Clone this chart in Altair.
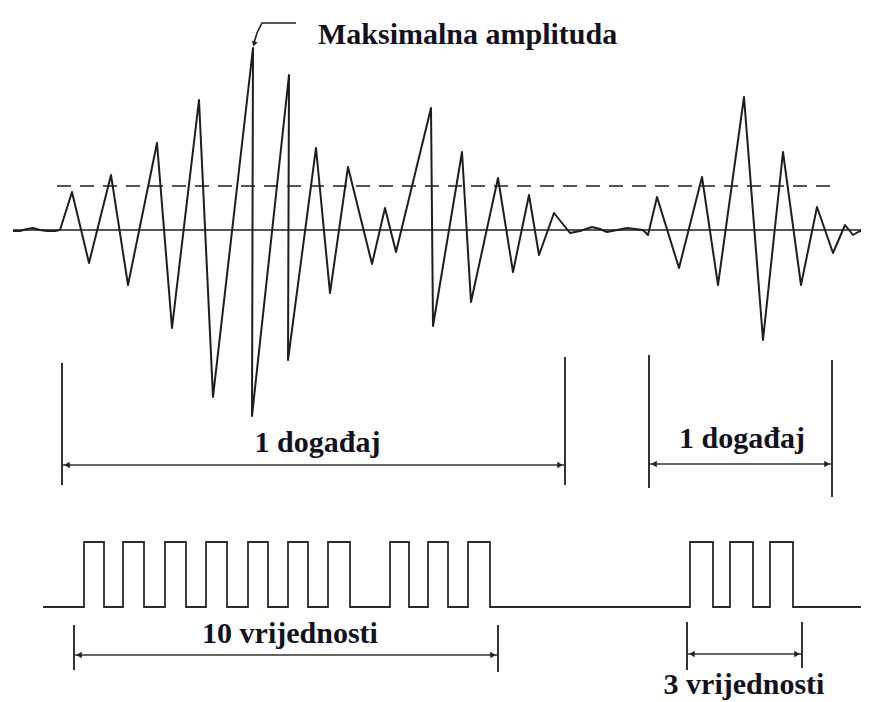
import altair as alt
import pandas as pd

# ---------------- data (diagram units: time -> right, level -> down) ----------------
# acoustic-emission waveform: time and amplitude above the baseline
wave_t = [13, 20, 27, 33, 40, 47, 55, 60, 72, 89, 111, 128, 157, 172, 199, 213, 253, 252,
          289, 288, 316, 330, 348, 372, 385, 396, 431, 433, 462, 471, 498, 513, 529, 539,
          554, 570, 580, 592, 600, 607, 627, 643, 648, 657, 679, 702, 718, 744, 763, 783,
          801, 817, 833, 845, 853, 860, 869]
wave_a = [-1, -1, 1, 2, 0, -1, -1, 0, 38, -33, 55, -55, 87, -98, 130, -167, 182, -186,
          155, -130, 82, -63, 63, -34, 22, -22, 122, -96, 78, -72, 52, -42, 35, -25,
          17, -3, -1, 3, 1, -2, 2, 0, -5, 33, -38, 53, -55, 133, -110, 78, -55,
          23, -23, 5, -5, -1, -5]
baseline_level = 230
threshold_amp = 44
wave_x_range = [13, 869]
threshold_x_range = [57, 835]
max_amp_label = "Maksimalna amplituda"

# threshold-crossing counts (rising / falling edges)
pulse_rise = [84, 123, 165, 206, 248, 288, 328, 390, 428, 468, 690, 730, 770]
pulse_fall = [104, 144, 186, 227, 268, 308, 350, 409, 448, 490, 713, 753, 793]
pulse_low, pulse_high = 607, 542
pulse_x_range = [43, 869]

# event spans
event_start = [62, 649]
event_end = [565, 832]
event_top_start = [363, 355]
event_top_end = [357, 360]
event_bottom_start = [485, 488]
event_bottom_end = [485, 497]
event_arrow_y = [465, 464]
event_label = ["1 događaj", "1 događaj"]
event_label_y = [452, 448]

# count spans
count_start = [74, 687]
count_end = [498, 802]
count_top = [625, 622]
count_bottom_start = [670, 670]
count_bottom_end = [672, 668]
count_arrow_y = [655, 654]
count_label = ["10 vrijednosti", "3 vrijednosti"]
count_label_y = [643, 694]

# ---------------- tables ----------------
wave = pd.DataFrame({"x": wave_t, "y": [baseline_level - a for a in wave_a],
                     "i": range(len(wave_t))})

pts = [(pulse_x_range[0], pulse_low)]
for r, f in zip(pulse_rise, pulse_fall):
    pts += [(r, pulse_low), (r, pulse_high), (f, pulse_high), (f, pulse_low)]
pts.append((pulse_x_range[1], pulse_low))
pulse = pd.DataFrame({"x": [p[0] for p in pts], "y": [p[1] for p in pts], "i": range(len(pts))})

hrules = pd.DataFrame({
    "x": [wave_x_range[0], threshold_x_range[0]],
    "x2": [wave_x_range[1], threshold_x_range[1]],
    "y": [baseline_level, baseline_level - threshold_amp],
    "kind": ["base", "thr"],
})

vlines = pd.DataFrame({
    "x": event_start + event_end + count_start + count_end,
    "y": event_top_start + event_top_end + count_top + count_top,
    "y2": event_bottom_start + event_bottom_end + count_bottom_start + count_bottom_end,
})
arrows = pd.DataFrame({
    "x": event_start + count_start,
    "x2": event_end + count_end,
    "y": event_arrow_y + count_arrow_y,
})
heads_l = pd.DataFrame({"x": [v + 5 for v in event_start + count_start],
                        "y": event_arrow_y + count_arrow_y})
heads_r = pd.DataFrame({"x": [v - 5 for v in event_end + count_end],
                        "y": event_arrow_y + count_arrow_y})

labels = pd.DataFrame({
    "x": [(a + b) / 2 + 4 for a, b in zip(event_start, event_end)]
         + [(a + b) / 2 + 4 for a, b in zip(count_start, count_end)],
    "y": event_label_y + count_label_y,
    "t": event_label + count_label,
})
labels.loc[1, "x"] = 742
labels.loc[3, "x"] = 744

peak_idx = wave_a.index(max(wave_a))
px, py = wave_t[peak_idx], baseline_level - wave_a[peak_idx]
leader = pd.DataFrame({"x": [px + 1, px + 4, px + 9, px + 43],
                       "y": [py - 5, py - 15, py - 25, py - 25], "i": range(4)})
leader_head = pd.DataFrame({"x": [px + 1], "y": [py - 4]})
title_df = pd.DataFrame({"x": [px + 65], "y": [py - 13], "t": [max_amp_label]})

# ---------------- chart ----------------
W, H = 853, 692
xs = alt.Scale(domain=[8, 8 + W], nice=False, zero=False)
ys = alt.Scale(domain=[8 + H, 8], nice=False, zero=False)
X = lambda f="x": alt.X(f"{f}:Q", scale=xs, axis=None)
Y = lambda f="y": alt.Y(f"{f}:Q", scale=ys, axis=None)
INK = "#1e1e1e"

base_rule = alt.Chart(hrules[hrules.kind == "base"]).mark_rule(
    color=INK, strokeWidth=1.6).encode(x=X(), x2="x2:Q", y=Y())
thr_rule = alt.Chart(hrules[hrules.kind == "thr"]).mark_rule(
    color=INK, strokeWidth=1.6, strokeDash=[14, 9]).encode(x=X(), x2="x2:Q", y=Y())

wave_line = alt.Chart(wave).mark_line(
    color=INK, strokeWidth=2, strokeJoin="round").encode(x=X(), y=Y(), order="i:Q")

pulse_line = alt.Chart(pulse).mark_line(
    color="#2a2a2a", strokeWidth=1.8, strokeJoin="miter").encode(x=X(), y=Y(), order="i:Q")

vl = alt.Chart(vlines).mark_rule(color="#333", strokeWidth=2).encode(x=X(), y=Y(), y2="y2:Q")
ar = alt.Chart(arrows).mark_rule(color="#333", strokeWidth=1.7).encode(x=X(), x2="x2:Q", y=Y())
hl = alt.Chart(heads_l).mark_point(shape="triangle-left", filled=True, size=40,
                                   color="#222", opacity=1).encode(x=X(), y=Y())
hr = alt.Chart(heads_r).mark_point(shape="triangle-right", filled=True, size=40,
                                   color="#222", opacity=1).encode(x=X(), y=Y())

txt = alt.Chart(labels).mark_text(
    font="Liberation Serif", fontWeight="bold", fontSize=30, baseline="alphabetic",
    align="center", color="#111122").encode(x=X(), y=Y(), text="t:N")

ld = alt.Chart(leader).mark_line(color=INK, strokeWidth=1.6).encode(x=X(), y=Y(), order="i:Q")
ldh = alt.Chart(leader_head).mark_point(shape="triangle-down", filled=True, size=35,
                                        angle=20, color=INK, opacity=1).encode(x=X(), y=Y())
ttl = alt.Chart(title_df).mark_text(
    font="Liberation Serif", fontWeight="bold", fontSize=30, baseline="middle",
    align="left", color="#111122").encode(x=X(), y=Y(), text="t:N")

chart = alt.layer(base_rule, thr_rule, wave_line, pulse_line, vl, ar, hl, hr, txt,
                  ld, ldh, ttl).properties(
    width=W, height=H, padding=0, autosize="none", background="white"
).configure_view(stroke=None)

chart.save("out.html", embed_options={"renderer": "svg", "actions": False})
